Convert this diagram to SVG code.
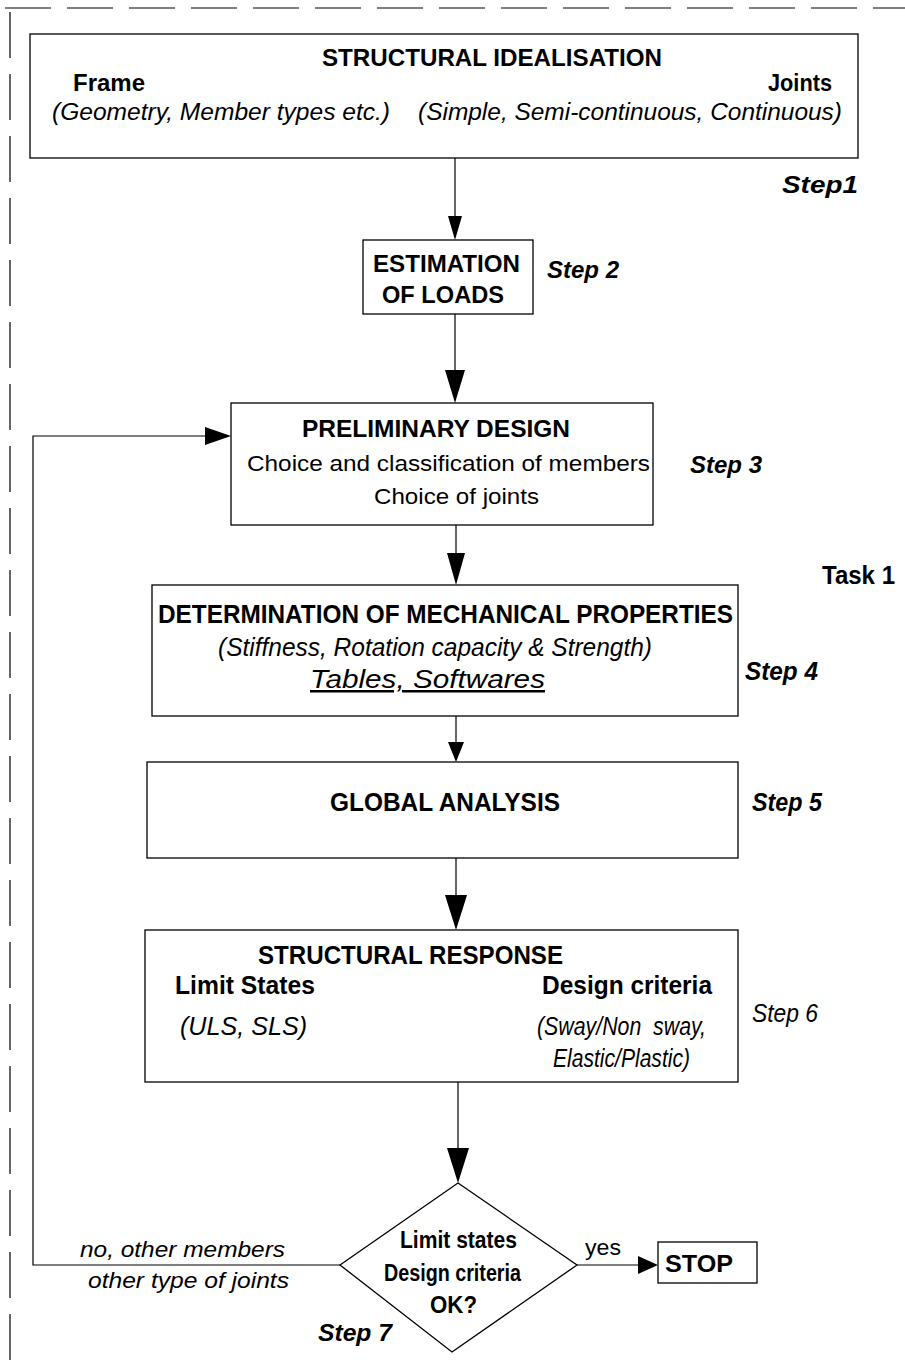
<svg xmlns="http://www.w3.org/2000/svg" width="905" height="1360" viewBox="0 0 905 1360">
  <style>
    .box { fill: #fff; stroke: #000; stroke-width: 1.3; }
    .ln { fill: none; stroke: #000; stroke-width: 1.2; }
    .border { fill: none; stroke: #000; stroke-width: 1.2; stroke-dasharray: 46 16; }
    text { font-family: "Liberation Sans", Arial, sans-serif; fill: #000; }
    .n { font-family: "Liberation Sans Narrow", "Arial Narrow", "Liberation Sans", sans-serif; font-size: 25px; }
    .b { font-weight: bold; }
    .i { font-style: italic; }
    .r { font-size: 22px; }
    .m { font-size: 23px; }
  </style>

  <!-- page frame (dashed) -->
  <g id="frame">
    <line class="border" x1="5" y1="8" x2="905" y2="8"/>
    <line class="border" x1="10" y1="12" x2="10" y2="1360"/>
  </g>

  <!-- connectors -->
  <g id="connectors">
    <line class="ln" x1="455" y1="158" x2="455" y2="218"/>
    <path d="M448,216 L462,216 L455,240 Z"/>
    <line class="ln" x1="455" y1="314" x2="455" y2="372"/>
    <path d="M445,370 L465,370 L455,403 Z"/>
    <line class="ln" x1="456" y1="525" x2="456" y2="555"/>
    <path d="M447,553 L465,553 L456,585 Z"/>
    <line class="ln" x1="456" y1="716" x2="456" y2="744"/>
    <path d="M448,742 L464,742 L456,762 Z"/>
    <line class="ln" x1="456" y1="858" x2="456" y2="897"/>
    <path d="M445,895 L467,895 L456,930 Z"/>
    <line class="ln" x1="458" y1="1082" x2="458" y2="1150"/>
    <path d="M447,1148 L469,1148 L458,1183 Z"/>
    <!-- yes branch -->
    <line class="ln" x1="577" y1="1265" x2="640" y2="1265"/>
    <path d="M638,1256 L658,1265 L638,1274 Z"/>
    <!-- no branch, back to preliminary design -->
    <polyline class="ln" points="340,1265 33,1265 33,436 207,436"/>
    <path d="M205,427 L231,436 L205,445 Z"/>
  </g>

  <g id="step1">
    <rect class="box" x="30" y="34" width="828" height="124"/>
    <text class="b m" x="322" y="66" textLength="340" lengthAdjust="spacingAndGlyphs">STRUCTURAL IDEALISATION</text>
    <text class="b m" x="73" y="91" textLength="72" lengthAdjust="spacingAndGlyphs">Frame</text>
    <text class="b m" x="768" y="91" textLength="64" lengthAdjust="spacingAndGlyphs">Joints</text>
    <text class="i m" x="52" y="120" textLength="338" lengthAdjust="spacingAndGlyphs">(Geometry, Member types etc.)</text>
    <text class="i m" x="418" y="120" textLength="424" lengthAdjust="spacingAndGlyphs">(Simple, Semi-continuous, Continuous)</text>
    <text class="b i m" x="782" y="193" textLength="76" lengthAdjust="spacingAndGlyphs">Step1</text>
  </g>

  <g id="step2">
    <rect class="box" x="363" y="240" width="170" height="74"/>
    <text class="b m" x="373" y="272" textLength="147" lengthAdjust="spacingAndGlyphs">ESTIMATION</text>
    <text class="b m" x="382" y="303" textLength="122" lengthAdjust="spacingAndGlyphs">OF LOADS</text>
    <text class="b i m" x="547" y="278" textLength="72" lengthAdjust="spacingAndGlyphs">Step 2</text>
  </g>

  <g id="step3">
    <rect class="box" x="231" y="403" width="422" height="122"/>
    <text class="b m" x="302" y="437" textLength="268" lengthAdjust="spacingAndGlyphs">PRELIMINARY DESIGN</text>
    <text class="r" x="247" y="471" textLength="403" lengthAdjust="spacingAndGlyphs">Choice and classification of members</text>
    <text class="r" x="374" y="504" textLength="165" lengthAdjust="spacingAndGlyphs">Choice of joints</text>
    <text class="b i m" x="690" y="473" textLength="72" lengthAdjust="spacingAndGlyphs">Step 3</text>
  </g>

  <text id="task1" class="n b" x="822" y="584" textLength="73" lengthAdjust="spacingAndGlyphs">Task 1</text>

  <g id="step4">
    <rect class="box" x="152" y="585" width="586" height="131"/>
    <text class="n b" x="158" y="623" textLength="575" lengthAdjust="spacingAndGlyphs">DETERMINATION OF MECHANICAL PROPERTIES</text>
    <text class="n i" x="218" y="656" textLength="434" lengthAdjust="spacingAndGlyphs">(Stiffness, Rotation capacity &amp; Strength)</text>
    <text class="n i" x="310" y="688" textLength="235" lengthAdjust="spacingAndGlyphs" text-decoration="underline">Tables, Softwares</text>
    <text class="n b i" x="745" y="680" textLength="73" lengthAdjust="spacingAndGlyphs">Step 4</text>
  </g>

  <g id="step5">
    <rect class="box" x="147" y="762" width="591" height="96"/>
    <text class="n b" x="330" y="811" textLength="230" lengthAdjust="spacingAndGlyphs">GLOBAL ANALYSIS</text>
    <text class="n b i" x="752" y="811" textLength="70" lengthAdjust="spacingAndGlyphs">Step 5</text>
  </g>

  <g id="step6">
    <rect class="box" x="145" y="930" width="593" height="152"/>
    <text class="n b" x="258" y="964" textLength="305" lengthAdjust="spacingAndGlyphs">STRUCTURAL RESPONSE</text>
    <text class="n b" x="175" y="994" textLength="140" lengthAdjust="spacingAndGlyphs">Limit States</text>
    <text class="n b" x="542" y="994" textLength="170" lengthAdjust="spacingAndGlyphs">Design criteria</text>
    <text class="n i" x="180" y="1035" textLength="127" lengthAdjust="spacingAndGlyphs">(ULS, SLS)</text>
    <text class="n i" x="537" y="1035" textLength="169" lengthAdjust="spacingAndGlyphs" xml:space="preserve">(Sway/Non  sway,</text>
    <text class="n i" x="553" y="1067" textLength="137" lengthAdjust="spacingAndGlyphs">Elastic/Plastic)</text>
    <text class="n i" x="752" y="1022" textLength="66" lengthAdjust="spacingAndGlyphs">Step 6</text>
  </g>

  <g id="step7">
    <polygon class="box" points="458,1183 577,1265 452,1352 340,1265"/>
    <text class="b m" x="400" y="1248" textLength="117" lengthAdjust="spacingAndGlyphs">Limit states</text>
    <text class="b m" x="384" y="1281" textLength="137" lengthAdjust="spacingAndGlyphs">Design criteria</text>
    <text class="b m" x="430" y="1313" textLength="47" lengthAdjust="spacingAndGlyphs">OK?</text>
    <text class="i r" x="80" y="1257" textLength="205" lengthAdjust="spacingAndGlyphs">no, other members</text>
    <text class="i r" x="88" y="1288" textLength="201" lengthAdjust="spacingAndGlyphs">other type of joints</text>
    <text class="b i m" x="318" y="1341" textLength="74" lengthAdjust="spacingAndGlyphs">Step 7</text>
    <text class="r" x="585" y="1255" textLength="36" lengthAdjust="spacingAndGlyphs">yes</text>
  </g>

  <g id="stop">
    <rect class="box" x="658" y="1242" width="99" height="41"/>
    <text class="b m" x="665" y="1272" textLength="68" lengthAdjust="spacingAndGlyphs">STOP</text>
  </g>
</svg>
